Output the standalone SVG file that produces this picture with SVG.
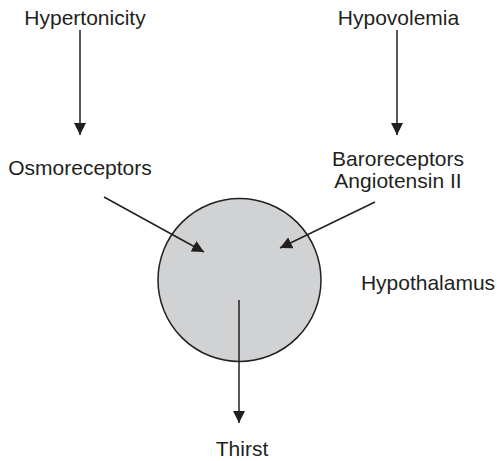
<svg xmlns="http://www.w3.org/2000/svg" width="497" height="461" viewBox="0 0 497 461">
<defs>
<marker id="ah" markerWidth="12" markerHeight="12" viewBox="0 0 12 12" refX="12" refY="6" orient="auto" markerUnits="userSpaceOnUse">
<path d="M0,0 L12,6 L0,12 Z" fill="#231f20"/>
</marker>
<style>
text{font-family:"Liberation Sans",Arial,sans-serif;font-size:21px;fill:#231f20;text-anchor:middle}
.c{stroke:#231f20;stroke-width:1.5;fill:none;marker-end:url(#ah)}
</style>
</defs>
<rect width="497" height="461" fill="#fff"/>
<g id="hypothalamus">
<circle cx="239.5" cy="280" r="81.5" fill="#d1d2d4" stroke="#231f20" stroke-width="1.5"/>
<text x="428" y="290">Hypothalamus</text>
</g>
<g id="hypertonicity"><text x="85" y="25">Hypertonicity</text></g>
<g id="osmoreceptors"><text x="80" y="175">Osmoreceptors</text></g>
<g id="hypovolemia"><text x="398.5" y="25">Hypovolemia</text></g>
<g id="baroreceptors"><text x="398" y="166">Baroreceptors</text><text x="398" y="188">Angiotensin II</text></g>
<g id="thirst"><text x="242" y="456">Thirst</text></g>
<g id="connectors">
<line class="c" x1="80" y1="30" x2="80" y2="135"/>
<line class="c" x1="397" y1="30" x2="397" y2="135"/>
<line class="c" x1="104" y1="197" x2="204" y2="252"/>
<line class="c" x1="375" y1="202" x2="280" y2="248"/>
<line class="c" x1="239" y1="300" x2="239" y2="423"/>
</g>
</svg>
